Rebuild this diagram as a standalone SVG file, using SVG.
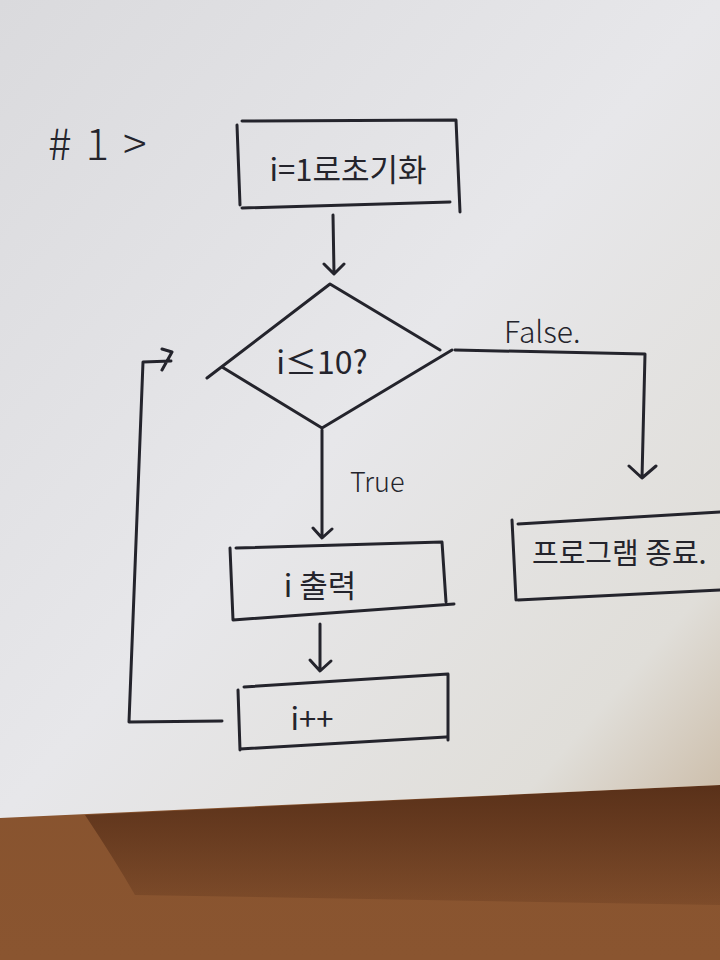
<svg xmlns="http://www.w3.org/2000/svg" width="720" height="960" viewBox="0 0 720 960">
<defs>
<linearGradient id="paper" x1="0" y1="0" x2="1" y2="1">
<stop offset="0" stop-color="#dadadd"/>
<stop offset="0.5" stop-color="#e7e7ea"/>
<stop offset="0.85" stop-color="#e0ded9"/>
<stop offset="1" stop-color="#cbbba6"/>
</linearGradient>
<linearGradient id="wood" x1="0" y1="0" x2="0" y2="1">
<stop offset="0" stop-color="#7e4c29"/>
<stop offset="1" stop-color="#8a5530"/>
</linearGradient>
<linearGradient id="shade" x1="0" y1="0" x2="0" y2="1">
<stop offset="0" stop-color="#4e2814" stop-opacity="0.8"/>
<stop offset="1" stop-color="#4e2814" stop-opacity="0.2"/>
</linearGradient>
<style>
.ink{fill:none;stroke:#24242c;stroke-width:3;stroke-linecap:round;stroke-linejoin:round}
.t{font-family:"Noto Sans CJK KR","Noto Sans",sans-serif;fill:#24242c}
</style>
</defs>
<rect x="0" y="0" width="720" height="960" fill="url(#wood)"/>
<path d="M85 815 L720 785 L720 905 L135 895 Q115 860 85 815 Z" fill="url(#shade)"/>
<path d="M0 0 H720 V785 L0 818 Z" fill="url(#paper)"/>

<text class="t" x="48" y="160" font-size="44" font-weight="300" letter-spacing="14">#1&gt;</text>

<g id="init">
<path class="ink" d="M237 125 L240 205 M242 121 L456 120 L460 212 M242 208 L450 202"/>
<text class="t" x="348" y="181" font-size="31" text-anchor="middle">i=1로초기화</text>
</g>

<g id="cond">
<path class="ink" d="M207 378 L330 284 L440 350 M222 367 L322 428 L452 350"/>
<text class="t" x="322" y="374" font-size="32" text-anchor="middle">i≤10?</text>
</g>

<g id="print">
<path class="ink" d="M230 548 L233 620 M236 548 L442 542 L446 602 M233 620 L454 604"/>
<text class="t" x="320" y="597" font-size="31" text-anchor="middle">i 출력</text>
</g>

<g id="incr">
<path class="ink" d="M238 690 L240 750 M244 687 L448 674 L448 740 M240 749 L446 737"/>
<text class="t" x="312" y="730" font-size="31" text-anchor="middle">i++</text>
</g>

<g id="end">
<path class="ink" d="M512 520 L516 600 M518 524 L720 512 M518 600 L720 590"/>
<text class="t" x="532" y="564" font-size="29">프로그램 종료.</text>
</g>

<g id="connectors">
<path class="ink" d="M333 215 L334 273 M324 264 L334 274 L344 264"/>
<path class="ink" d="M455 350 L645 354 L642 478 M629 466 L642 478 L656 466"/>
<path class="ink" d="M322 430 L322 537 M313 528 L322 538 L332 529"/>
<path class="ink" d="M320 624 L320 670 M310 660 L320 671 L331 661"/>
<path class="ink" d="M222 721 L129 722 L143 362 L171 361 M162 349 L172 352 L162 370"/>
<text class="t" x="504" y="343" font-size="30" font-weight="300">False.</text>
<text class="t" x="350" y="492" font-size="27" font-weight="300">True</text>
</g>
</svg>
